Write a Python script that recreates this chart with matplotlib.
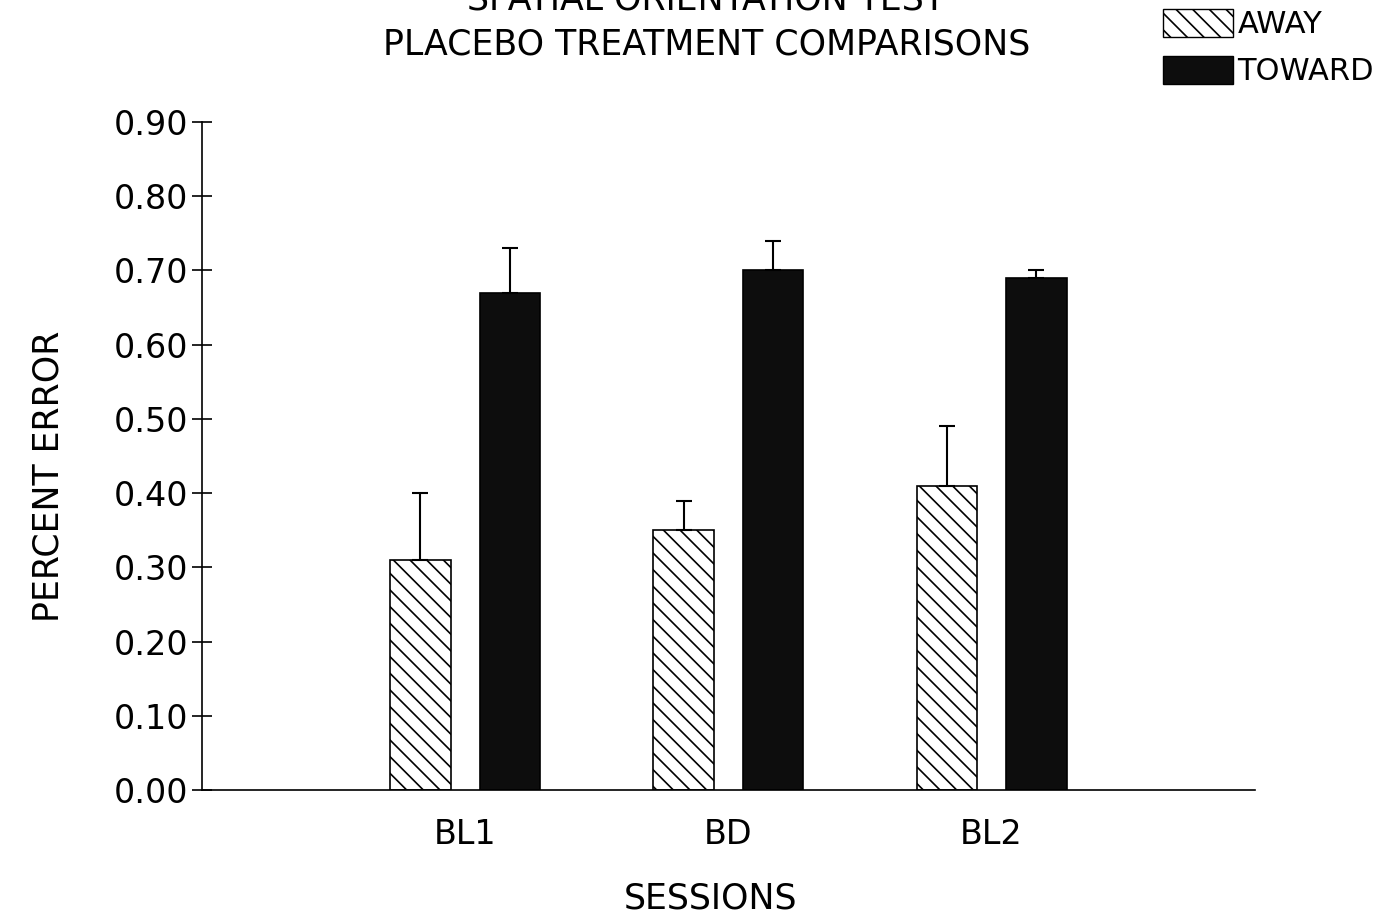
import numpy as np
from matplotlib import pyplot as plt
from matplotlib.patches import Patch

sessions = ['BL1', 'BD', 'BL2']
away = [0.31, 0.35, 0.41]
away_err = [0.09, 0.04, 0.08]
toward = [0.67, 0.70, 0.69]
toward_err = [0.06, 0.04, 0.01]
yticks = [0.0, 0.1, 0.2, 0.3, 0.4, 0.5, 0.6, 0.7, 0.8, 0.9]

plt.rcParams['font.family'] = ['DejaVu Sans']
plt.rcParams['hatch.linewidth'] = 1.2

fig = plt.figure(figsize=(13.85, 9.14), dpi=100)
ax = fig.add_axes([0.1458, 0.1357, 0.7602, 0.7308])

x = np.arange(1, len(sessions) + 1)
w = 0.23
off = 0.17

ax.bar(x - off, away, w, color='white', edgecolor='black', hatch='\\\\', linewidth=1.2)
ax.bar(x + off, toward, w, color='#0d0d0d', edgecolor='black', linewidth=1.2)
ax.errorbar(x - off, away, yerr=[np.zeros(3), away_err], fmt='none',
            ecolor='black', elinewidth=1.5, capsize=6, capthick=1.5)
ax.errorbar(x + off, toward, yerr=[np.zeros(3), toward_err], fmt='none',
            ecolor='black', elinewidth=1.5, capsize=6, capthick=1.5)

ax.set_xlim(0, 4)
ax.set_ylim(0, 0.9)
ax.set_yticks(yticks)
ax.set_yticklabels(['%.2f' % t for t in yticks], fontsize=24)
ax.tick_params(axis='y', direction='inout', length=14, width=1.2, pad=3)
ax.set_xticks(x)
ax.set_xticklabels(sessions, fontsize=24)
ax.tick_params(axis='x', length=0, pad=20)
for s in ['top', 'right']:
    ax.spines[s].set_visible(False)
ax.spines['left'].set_linewidth(1.2)
ax.spines['bottom'].set_linewidth(1.2)

ax.set_ylabel('PERCENT ERROR', fontsize=25)
ax.yaxis.set_label_coords(-0.13, 0.47)
ax.set_xlabel('SESSIONS', fontsize=25)
ax.xaxis.set_label_coords(0.483, -0.137)

fig.text(0.51, 1.0, 'SPATIAL ORIENTATION TEST', ha='center', va='center',
         fontsize=25)
fig.text(0.51, 0.951, 'PLACEBO TREATMENT COMPARISONS', ha='center', va='center',
         fontsize=25)

handles = [Patch(facecolor='white', edgecolor='black', hatch='\\\\', label='AWAY'),
           Patch(facecolor='#0d0d0d', edgecolor='black', label='TOWARD')]
fig.legend(handles=handles, loc='upper right', bbox_to_anchor=(1.012, 1.02),
           frameon=False, prop={'size': 22},
           handlelength=2.3, handleheight=1.0, handletextpad=0.15, labelspacing=0.55)

fig.savefig('out.png', dpi=100)
